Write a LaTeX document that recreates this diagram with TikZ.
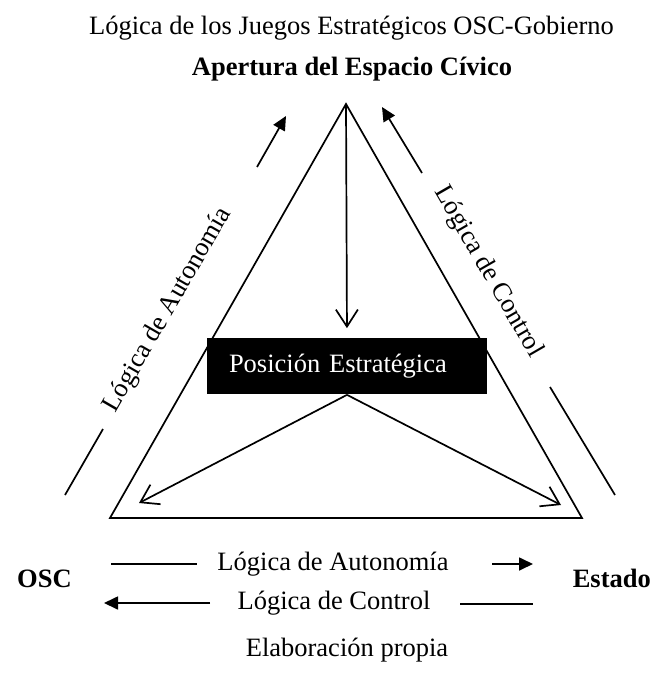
\documentclass[tikz,border=0pt]{standalone}
\usepackage{fontspec}
\setmainfont{Liberation Serif}
\usetikzlibrary{arrows.meta}
\newcommand\lbl{\fontsize{26.5}{30}\selectfont}
\begin{document}
\begin{tikzpicture}[x=1pt,y=-1pt,line width=1.7pt,font=\lbl,
    barb/.style={-{Straight Barb[length=17pt,width=22pt]}},
    head/.style={-{Triangle[length=14pt,width=13pt]}},
    posbox/.style={fill=black,text=white,inner xsep=22pt,text width=236pt,align=left,minimum height=56pt}]
            \useasboundingbox (0,0) rectangle (657,685);
            \node[anchor=base] (title) at (351.5,35) {Lógica de los Juegos Estratégicos OSC-Gobierno};
            \node[anchor=base,font=\lbl\bfseries] (civico) at (352,75) {Apertura del Espacio Cívico};
            \coordinate (apex) at (346,104);
            \coordinate (osc) at (110,518);
            \coordinate (est) at (582,518);
            \draw (apex)--(osc)--(est)--cycle;
            \node[posbox] (pos) at (347,366) {Posición Estratégica};
            \draw[barb,shorten >=9pt] (apex)--(pos.north);
            \coordinate (tipl) at (139,503);
            \coordinate (tipr) at (561,505);
            \draw[barb] (pos.south)--(tipl);
            \draw[barb] (pos.south)--(tipr);
            % sides
            \node[rotate=60] (autlbl) at (168,310) {Lógica de Autonomía};
            \node[rotate=-60] (ctllbl) at (488,272) {Lógica de Control};
            \coordinate (a1) at (65,495); \coordinate (a2) at (103,429);
            \coordinate (a3) at (257,167); \coordinate (a4) at (286,116);
            \coordinate (c1) at (422,173); \coordinate (c2) at (382,107);
            \coordinate (c3) at (550,387); \coordinate (c4) at (615,495);
            \draw (a1)--(a2);
            \draw[head] (a3)--(a4);
            \draw[head] (c1)--(c2);
            \draw (c3)--(c4);
            % base
            \node[anchor=base west,font=\lbl\bfseries] (oscl) at (13,587) {OSC};
            \node[anchor=base east,font=\lbl\bfseries] (estl) at (655,587) {Estado};
            \node[anchor=base] (autb) at (333,570) {Lógica de Autonomía};
            \node[anchor=base] (ctlb) at (334,609) {Lógica de Control};
            \coordinate (b1) at (111,564); \coordinate (b2) at (197,564);
            \coordinate (b3) at (492,564); \coordinate (b4) at (533,564);
            \coordinate (b5) at (210,603); \coordinate (b6) at (104,603);
            \coordinate (b7) at (460,604); \coordinate (b8) at (533,604);
            \draw (b1)--(b2);
            \draw[head] (b3)--(b4);
            \draw[head] (b5)--(b6);
            \draw (b7)--(b8);
            \node[anchor=base] (fuente) at (347,656) {Elaboración propia};
        \end{tikzpicture}
\end{document}
